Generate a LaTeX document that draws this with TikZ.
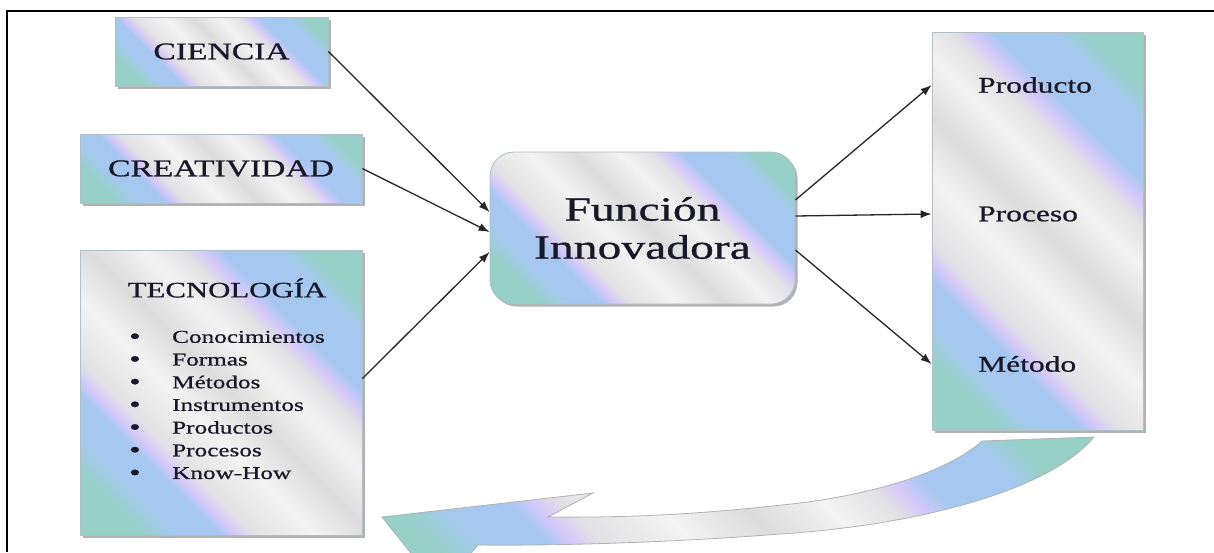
\documentclass[tikz,border=0pt]{standalone}
\usepackage{fontspec}
\setmainfont{Liberation Serif}[FakeStretch=1.4,FakeBold=0.8]
\usetikzlibrary{arrows.meta,calc,shadows}
\definecolor{cteal}{RGB}{150,208,198}
\definecolor{cblue}{RGB}{166,200,240}
\definecolor{clav}{RGB}{212,200,250}
\definecolor{cgraya}{RGB}{226,226,228}
\definecolor{cwhite}{RGB}{243,243,243}
\definecolor{cgrayb}{RGB}{220,220,220}
\definecolor{boxedge}{RGB}{176,192,198}
\definecolor{ink}{RGB}{24,24,40}
\pgfdeclarehorizontalshading{rbw}{100bp}{color(0bp)=(cteal); color(22bp)=(cteal); color(27bp)=(cblue); color(32bp)=(cblue); color(34bp)=(clav); color(36.5bp)=(cgraya); color(44bp)=(cwhite); color(51bp)=(cgrayb); color(58bp)=(cwhite); color(63bp)=(cgraya); color(65.5bp)=(clav); color(68bp)=(cblue); color(75bp)=(cblue); color(79bp)=(cteal); color(100bp)=(cteal)}
\newcommand{\mybul}{\makebox[43pt][l]{\raisebox{-1.2pt}[0pt][0pt]{\scalebox{1.3}{\textbullet}}}}
\begin{document}
\begin{tikzpicture}[x=1pt,y=-1pt,
  cbox/.style={draw=boxedge, line width=0.8pt, shade, shading=rbw, shading angle=45,
    drop shadow={shadow xshift=2.5pt, shadow yshift=-2.5pt, fill=black, opacity=0.3},
    inner sep=0pt, text=ink},
  txt/.style={inner sep=0pt, text=ink},
  conn/.style={draw=black!85, line width=1.3pt, -{Latex[length=11pt,width=8pt]}}]
\useasboundingbox (0,0) rectangle (1214,552);
\fill[white] (0,0) rectangle (1214,552);
% frame
\draw[line width=2pt] (7,552) -- (7,11) -- (1214,11);

% left boxes
\node[cbox, minimum width=213pt, minimum height=69pt, font=\fontsize{24}{28}\selectfont] (ciencia) at (221.5,51.5) {CIENCIA};
\node[cbox, minimum width=282pt, minimum height=69pt, font=\fontsize{24}{28}\selectfont] (creat) at (221,168.5) {CREATIVIDAD};
\node[cbox, minimum width=282pt, minimum height=285pt] (tecno) at (221,392.5) {};
\node[txt, font=\fontsize{22}{26}\selectfont] (tecnoh) at (227,288) {TECNOLOGÍA};
\node[txt, anchor=west, align=left, font=\fontsize{18}{22.7}\selectfont] (lista) at (129,405)
 {\mybul Conocimientos\\
  \mybul Formas\\
  \mybul Métodos\\
  \mybul Instrumentos\\
  \mybul Productos\\
  \mybul Procesos\\
  \mybul Know-How};

% central box
\node[cbox, rounded corners=24pt, minimum width=305pt, minimum height=152pt, align=center,
  font=\fontsize{34}{38}\selectfont] (func) at (642.5,228) {Función\\Innovadora};

% right box
\node[cbox, minimum width=211pt, minimum height=398pt] (salida) at (1037.5,231) {};
\node[txt, anchor=west, font=\fontsize{22.5}{26}\selectfont] (prod) at (978,85) {Producto};
\node[txt, anchor=west, font=\fontsize{22.5}{26}\selectfont] (proc) at (978,214) {Proceso};
\node[txt, anchor=west, font=\fontsize{22.5}{26}\selectfont] (meto) at (978,364) {Método};

% connectors
\draw[conn] (ciencia.east) -- ($(func.west)+(0,-16)$);
\draw[conn] (creat.east) -- ($(func.west)+(0,4)$);
\draw[conn] ($(tecno.east)+(0,-14)$) -- ($(func.west)+(0,24)$);
\draw[conn] ($(func.east)+(0,-28)$) -- (salida.west |- prod);
\draw[conn] ($(func.east)+(0,-12)$) -- (salida.west |- proc);
\draw[conn] ($(func.east)+(0,22)$) -- (salida.west |- meto);

% curved block arrow
\begin{scope}
\clip (0,0) rectangle (1214,552);
\path[shade, shading=rbw, shading angle=45, draw=gray!60, line width=0.8pt]
  (982,441) -- (1094,437)
  .. controls (1050,490) and (920,525) .. (780,534)
  .. controls (680,542) and (560,546) .. (478,545)
  -- (440,590) -- (382,517) -- (593,493) -- (548,517)
  .. controls (650,518) and (720,512) .. (800,503)
  .. controls (880,493) and (950,470) .. (982,441) -- cycle;
\end{scope}
\end{tikzpicture}
\end{document}
